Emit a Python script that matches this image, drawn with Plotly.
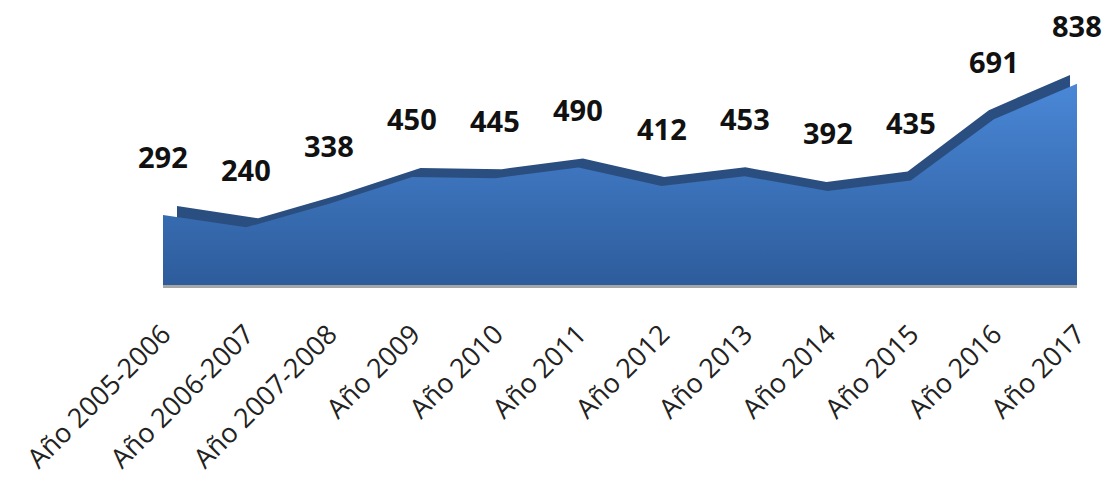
import plotly.graph_objects as go

# ---------------- DATA ----------------
years = ["Año 2005-2006", "Año 2006-2007", "Año 2007-2008", "Año 2009", "Año 2010",
         "Año 2011", "Año 2012", "Año 2013", "Año 2014", "Año 2015", "Año 2016", "Año 2017"]
totals = [292, 240, 338, 450, 445, 490, 412, 453, 392, 435, 691, 838]

# ---------------- FIGURE ----------------
fig = go.Figure()

# back edge of the 3D area (dark top strip) - base axes, drawn first
fig.add_trace(go.Scatter(
    x=years, y=totals, xaxis="x", yaxis="y",
    mode="lines", line=dict(color="#2B4E80", width=0),
    fill="tozeroy", fillcolor="#2B4E80", hoverinfo="skip"
))

# front face with gradient - overlay axes, drawn on top
fig.add_trace(go.Scatter(
    x=years, y=totals, xaxis="x2", yaxis="y2",
    mode="lines", line=dict(color="#3565A8", width=0),
    fill="tozeroy",
    fillgradient=dict(type="vertical", start=0, stop=850,
                      colorscale=[[0, "#2D5C9B"], [1, "#4A88D8"]]),
))

# gray floor line
fig.add_shape(type="line", xref="x2", yref="y2", x0=0, x1=11, y0=-6, y1=-6,
              line=dict(color="#A6A6A6", width=3))

# data labels
for yr, v in zip(years, totals):
    fig.add_annotation(x=yr, y=v, xref="x2", yref="y2", text=f"<b>{v}</b>",
                       showarrow=False, yshift=58,
                       font=dict(size=29, color="#111111", family="Open Sans"))

# page body adds 8px margin, so the figure is 8px smaller and shifted
fig.update_layout(
    width=1110, height=480,
    margin=dict(l=155, r=41, t=37, b=198, autoexpand=False),
    paper_bgcolor="white", plot_bgcolor="white",
    showlegend=False,
    xaxis=dict(type="category", range=[-0.1725, 11.086], visible=False, automargin=False),
    yaxis=dict(range=[-58.5, 962.5], visible=False, automargin=False),
    xaxis2=dict(type="category", overlaying="x", side="bottom", range=[0, 11],
                showgrid=False, zeroline=False, showline=False, ticks="",
                tickangle=-45, ticklabelstandoff=22, automargin=False,
                tickfont=dict(size=27, color="#222222", family="Open Sans")),
    yaxis2=dict(range=[-21, 1000], overlaying="y", visible=False, automargin=False),
)

fig.write_html("out.html")
